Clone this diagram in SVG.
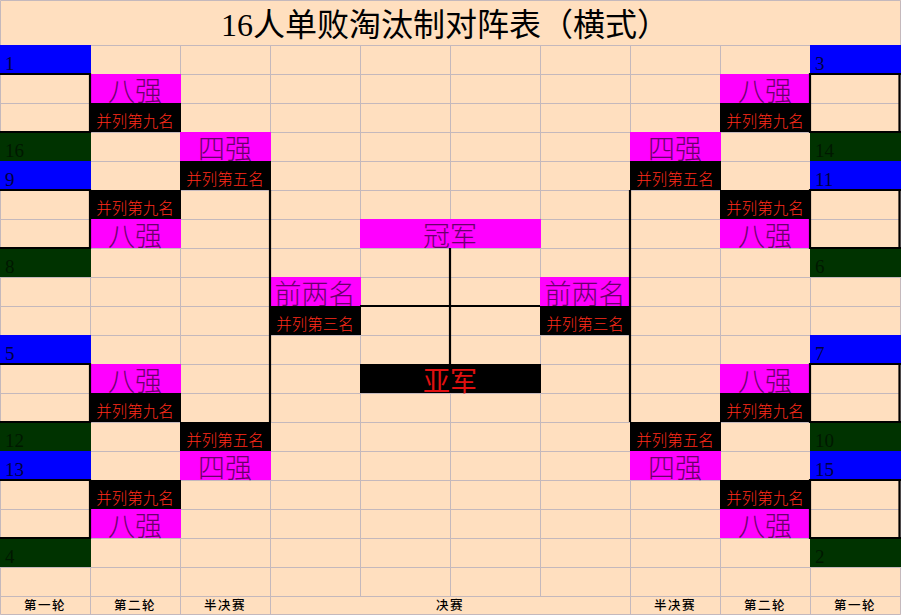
<svg xmlns="http://www.w3.org/2000/svg" width="901" height="615" viewBox="0 0 901 615">
<style>
.bg{fill:#FFDFBF}
.grid{stroke:#C4B8BC;stroke-width:1;fill:none}
.blue{fill:#0000FF}
.green{fill:#003300}
.mag{fill:#FF00FF}
.blk{fill:#000000}
.num{font-family:"Liberation Serif","Noto Sans CJK SC",serif;font-size:19px;fill:#000040}
.numg{font-family:"Liberation Serif","Noto Sans CJK SC",serif;font-size:19px;fill:#001800}
.mt{font-family:"Noto Sans CJK SC",sans-serif;font-size:27px;font-weight:300;fill:#6A006A;text-anchor:middle}
.rt{font-family:"Noto Sans CJK SC",sans-serif;font-size:15.5px;font-weight:300;fill:#FF2A1A;text-anchor:middle}
.big{font-family:"Noto Sans CJK SC",sans-serif;font-size:27px;font-weight:400;fill:#E01010;text-anchor:middle}
.lbl{font-family:"Noto Sans CJK SC",sans-serif;font-size:12.5px;font-weight:500;fill:#000;text-anchor:middle;letter-spacing:1.5px}
.title{font-family:"Liberation Serif","Noto Sans CJK SC",serif;font-size:32px;fill:#000;text-anchor:middle}
.con{stroke:#000;stroke-width:2.2;fill:none}
</style>
<rect class="bg" x="0" y="0" width="901" height="615"/>
<g id="grid">
<path class="grid" d="M0.5 0.5H900.5V614.5H0.5Z M0 45.5H901 M0 74.5H901 M0 103.5H901 M0 132.5H901 M0 161.5H901 M0 190.5H901 M0 219.5H901 M0 248.5H901 M0 277.5H901 M0 306.5H901 M0 335.5H901 M0 364.5H901 M0 393.5H901 M0 422.5H901 M0 451.5H901 M0 480.5H901 M0 509.5H901 M0 538.5H901 M0 567.5H901 M0 596.5H901 M90.5 45V615 M180.5 45V615 M270.5 45V615 M360.5 45V596 M450.5 45V596 M540.5 45V596 M630.5 45V615 M720.5 45V615 M810.5 45V615"/>
</g>
<g id="title"><text class="title" x="445" y="36" textLength="448" lengthAdjust="spacing">16人单败淘汰制对阵表（横式）</text></g>

<g id="left-round1">
<g id="L1"><rect class="blue" x="0" y="45" width="91" height="29"/><text class="num" x="5" y="70">1</text></g>
<g id="L16"><rect class="green" x="0" y="132" width="91" height="29"/><text class="numg" x="5" y="157">16</text></g>
<g id="L9"><rect class="blue" x="0" y="161" width="91" height="29"/><text class="num" x="5" y="186">9</text></g>
<g id="L8"><rect class="green" x="0" y="248" width="91" height="29"/><text class="numg" x="5" y="273">8</text></g>
<g id="L5"><rect class="blue" x="0" y="335" width="91" height="29"/><text class="num" x="5" y="360">5</text></g>
<g id="L12"><rect class="green" x="0" y="422" width="91" height="29"/><text class="numg" x="5" y="447">12</text></g>
<g id="L13"><rect class="blue" x="0" y="451" width="91" height="29"/><text class="num" x="5" y="476">13</text></g>
<g id="L4"><rect class="green" x="0" y="538" width="91" height="29"/><text class="numg" x="5" y="563">4</text></g>
</g>

<g id="right-round1">
<g id="R3"><rect class="blue" x="810" y="45" width="91" height="29"/><text class="num" x="815" y="70">3</text></g>
<g id="R14"><rect class="green" x="810" y="132" width="91" height="29"/><text class="numg" x="815" y="157">14</text></g>
<g id="R11"><rect class="blue" x="810" y="161" width="91" height="29"/><text class="num" x="815" y="186">11</text></g>
<g id="R6"><rect class="green" x="810" y="248" width="91" height="29"/><text class="numg" x="815" y="273">6</text></g>
<g id="R7"><rect class="blue" x="810" y="335" width="91" height="29"/><text class="num" x="815" y="360">7</text></g>
<g id="R10"><rect class="green" x="810" y="422" width="91" height="29"/><text class="numg" x="815" y="447">10</text></g>
<g id="R15"><rect class="blue" x="810" y="451" width="91" height="29"/><text class="num" x="815" y="476">15</text></g>
<g id="R2"><rect class="green" x="810" y="538" width="91" height="29"/><text class="numg" x="815" y="563">2</text></g>
</g>

<g id="left-round2">
<g id="L8a"><rect class="mag" x="90" y="74" width="91" height="29"/><text class="mt" x="135" y="101">八强</text></g>
<g id="L9a"><rect class="blk" x="90" y="103" width="91" height="29"/><text class="rt" x="135" y="127">并列第九名</text></g>
<g id="L9b"><rect class="blk" x="90" y="190" width="91" height="29"/><text class="rt" x="135" y="214">并列第九名</text></g>
<g id="L8b"><rect class="mag" x="90" y="219" width="91" height="29"/><text class="mt" x="135" y="246">八强</text></g>
<g id="L8c"><rect class="mag" x="90" y="364" width="91" height="29"/><text class="mt" x="135" y="391">八强</text></g>
<g id="L9c"><rect class="blk" x="90" y="393" width="91" height="29"/><text class="rt" x="135" y="417">并列第九名</text></g>
<g id="L9d"><rect class="blk" x="90" y="480" width="91" height="29"/><text class="rt" x="135" y="504">并列第九名</text></g>
<g id="L8d"><rect class="mag" x="90" y="509" width="91" height="29"/><text class="mt" x="135" y="536">八强</text></g>
</g>

<g id="right-round2">
<g id="R8a"><rect class="mag" x="720" y="74" width="91" height="29"/><text class="mt" x="765" y="101">八强</text></g>
<g id="R9a"><rect class="blk" x="720" y="103" width="91" height="29"/><text class="rt" x="765" y="127">并列第九名</text></g>
<g id="R9b"><rect class="blk" x="720" y="190" width="91" height="29"/><text class="rt" x="765" y="214">并列第九名</text></g>
<g id="R8b"><rect class="mag" x="720" y="219" width="91" height="29"/><text class="mt" x="765" y="246">八强</text></g>
<g id="R8c"><rect class="mag" x="720" y="364" width="91" height="29"/><text class="mt" x="765" y="391">八强</text></g>
<g id="R9c"><rect class="blk" x="720" y="393" width="91" height="29"/><text class="rt" x="765" y="417">并列第九名</text></g>
<g id="R9d"><rect class="blk" x="720" y="480" width="91" height="29"/><text class="rt" x="765" y="504">并列第九名</text></g>
<g id="R8d"><rect class="mag" x="720" y="509" width="91" height="29"/><text class="mt" x="765" y="536">八强</text></g>
</g>

<g id="left-semi">
<g id="L4a"><rect class="mag" x="180" y="132" width="91" height="29"/><text class="mt" x="225" y="159">四强</text></g>
<g id="L5a"><rect class="blk" x="180" y="161" width="91" height="29"/><text class="rt" x="225" y="185">并列第五名</text></g>
<g id="L5b"><rect class="blk" x="180" y="422" width="91" height="29"/><text class="rt" x="225" y="446">并列第五名</text></g>
<g id="L4b"><rect class="mag" x="180" y="451" width="91" height="29"/><text class="mt" x="225" y="478">四强</text></g>
</g>

<g id="right-semi">
<g id="R4a"><rect class="mag" x="630" y="132" width="91" height="29"/><text class="mt" x="675" y="159">四强</text></g>
<g id="R5a"><rect class="blk" x="630" y="161" width="91" height="29"/><text class="rt" x="675" y="185">并列第五名</text></g>
<g id="R5b"><rect class="blk" x="630" y="422" width="91" height="29"/><text class="rt" x="675" y="446">并列第五名</text></g>
<g id="R4b"><rect class="mag" x="630" y="451" width="91" height="29"/><text class="mt" x="675" y="478">四强</text></g>
</g>

<g id="final">
<g id="Ltop2"><rect class="mag" x="270" y="277" width="91" height="29"/><text class="mt" x="315" y="304">前两名</text></g>
<g id="L3"><rect class="blk" x="270" y="306" width="91" height="29"/><text class="rt" x="315" y="330">并列第三名</text></g>
<g id="Rtop2"><rect class="mag" x="540" y="277" width="91" height="29"/><text class="mt" x="585" y="304">前两名</text></g>
<g id="R3rd"><rect class="blk" x="540" y="306" width="91" height="29"/><text class="rt" x="585" y="330">并列第三名</text></g>
<g id="champion"><rect class="mag" x="360" y="219" width="181" height="29"/><text class="mt" x="450" y="246">冠军</text></g>
<g id="runnerup"><rect class="blk" x="360" y="364" width="181" height="29"/><text class="big" x="450" y="391">亚军</text></g>
</g>

<g id="connectors">
<path class="con" d="M0 74H90V132H0 M0 190H90V248H0 M0 364H90V422H0 M0 480H90V538H0"/>
<path class="con" d="M901 74H810V132H901 M901 190H810V248H901 M901 364H810V422H901 M901 480H810V538H901 M899.5 74V132 M899.5 190V248 M899.5 364V422 M899.5 480V538"/>
<path class="con" d="M270 190V422 M630 190V422"/>
<path class="con" d="M450 248V364 M360 306H540"/>
</g>

<g id="labels">
<text class="lbl" x="45" y="610">第一轮</text>
<text class="lbl" x="135" y="610">第二轮</text>
<text class="lbl" x="225" y="610">半决赛</text>
<text class="lbl" x="450" y="610">决赛</text>
<text class="lbl" x="675" y="610">半决赛</text>
<text class="lbl" x="765" y="610">第二轮</text>
<text class="lbl" x="855" y="610">第一轮</text>
</g>
</svg>
